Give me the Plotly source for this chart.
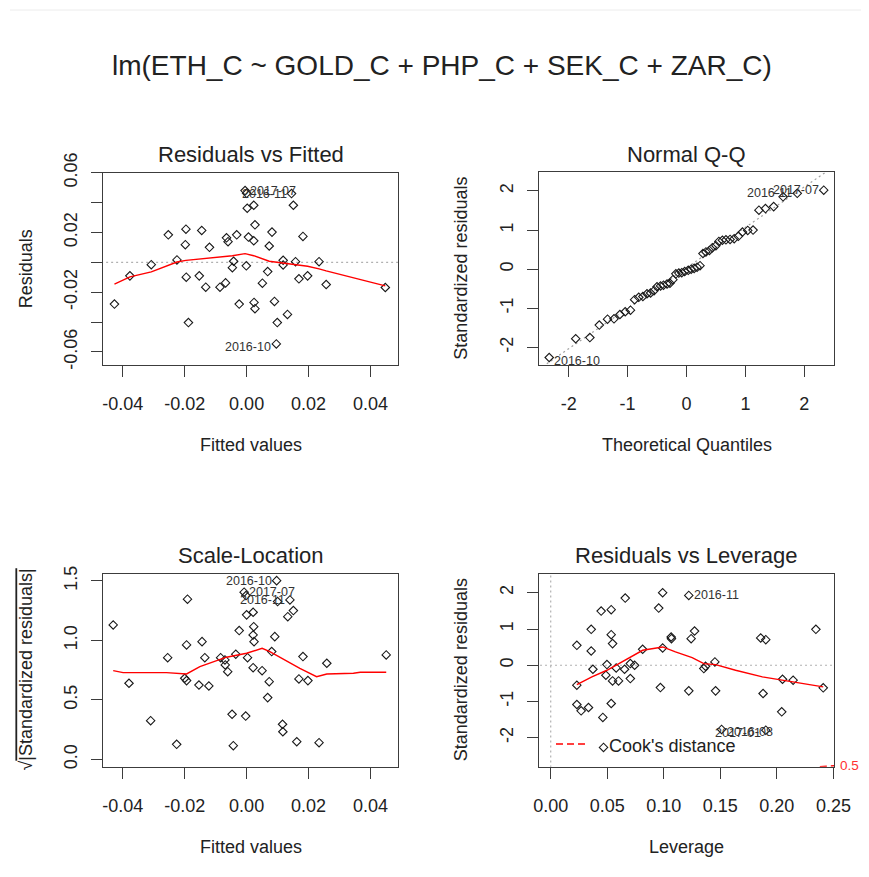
import plotly.graph_objects as go

PAGE_W, PAGE_H = 869, 877
OFF = 8  # default body margin of the html page
W, H = PAGE_W - OFF, PAGE_H - OFF

# ---------------- data ----------------
# Residuals vs Fitted
fitted = [-0.0427, -0.0377, -0.0308, -0.0253, -0.0225, -0.0196, -0.0198, -0.0195, -0.0188, -0.0153,
          -0.0145, -0.0132, -0.0120, -0.0086, -0.0068, -0.0065, -0.0060, -0.0046, -0.0042, -0.0032,
          -0.0024, -0.0005, 0.0000, -0.0001, 0.0002, 0.0006, 0.0023, 0.0023, 0.0027, 0.0024,
          0.0027, 0.0051, 0.0068, 0.0073, 0.0082, 0.0090, 0.0099, 0.0096, 0.0118, 0.0118,
          0.0132, 0.0151, 0.0158, 0.0169, 0.0182, 0.0197, 0.0234, 0.0257, 0.0448, 0.0145]
residuals = [-0.0280, -0.0091, -0.0016, 0.0184, 0.0016, 0.0222, 0.0118, -0.0100, -0.0404, -0.0091,
             0.0213, -0.0167, 0.0100, -0.0167, -0.0138, 0.0164, 0.0138, -0.0036, 0.0007, 0.0184,
             -0.0280, 0.0480, 0.0462, -0.0024, 0.0362, 0.0169, 0.0382, 0.0144, 0.0251, -0.0269,
             -0.0311, -0.0140, -0.0062, 0.0109, 0.0202, -0.0262, -0.0404, -0.0547, 0.0013, -0.0018,
             -0.0349, 0.0382, 0.0004, -0.0111, 0.0173, -0.0091, 0.0004, -0.0149, -0.0169, 0.0460]
rf_smooth_x = [-0.0427, -0.0377, -0.0308, -0.0225, -0.0196, -0.0120, -0.0046, -0.0005, 0.0023,
               0.0073, 0.0118, 0.0158, 0.0197, 0.0234, 0.0257, 0.0448]
rf_smooth_y = [-0.0147, -0.0098, -0.0064, 0.0002, 0.0013, 0.0027, 0.0044, 0.0058, 0.0044,
               0.0007, -0.0004, -0.0013, -0.0027, -0.0044, -0.0058, -0.0158]
rf_labels = ["2017-07", "2016-11", "2016-10"]
rf_label_x = [-0.0005, 0.0145, 0.0096]
rf_label_y = [0.0480, 0.0460, -0.0547]
rf_label_side = ["right", "left", "left"]

# Normal Q-Q
qq_theoretical = [-2.33, -1.88, -1.64, -1.48, -1.34, -1.23, -1.13, -1.04, -0.95, -0.88,
                  -0.81, -0.74, -0.67, -0.61, -0.55, -0.50, -0.44, -0.39, -0.33, -0.28,
                  -0.23, -0.18, -0.13, -0.08, -0.03, 0.03, 0.08, 0.13, 0.18, 0.23,
                  0.28, 0.33, 0.39, 0.44, 0.50, 0.55, 0.61, 0.67, 0.74, 0.81,
                  0.88, 0.95, 1.04, 1.13, 1.23, 1.34, 1.48, 1.64, 1.88, 2.33]
qq_sample = [-2.26, -1.78, -1.75, -1.43, -1.28, -1.27, -1.16, -1.09, -1.05, -0.78,
             -0.72, -0.70, -0.63, -0.61, -0.55, -0.45, -0.43, -0.41, -0.38, -0.36,
             -0.27, -0.12, -0.10, -0.09, -0.06, -0.03, 0.00, 0.02, 0.05, 0.09,
             0.40, 0.44, 0.48, 0.55, 0.60, 0.71, 0.74, 0.75, 0.76, 0.78,
             0.84, 0.95, 0.99, 1.00, 1.51, 1.55, 1.60, 1.85, 1.94, 2.02]
qq_line_intercept = 0.034
qq_line_slope = 1.035
qq_labels = ["2016-10", "2016-11", "2017-07"]
qq_label_x = [-2.33, 1.88, 2.33]
qq_label_y = [-2.26, 1.94, 2.02]
qq_label_side = ["right", "left", "left"]

# Scale-Location
sl_fitted = [-0.0431, -0.0380, -0.0310, -0.0226, -0.0255, -0.0191, -0.0194, -0.0200, -0.0194, -0.0154,
             -0.0144, -0.0135, -0.0122, -0.0084, -0.0070, -0.0069, -0.0061, -0.0047, -0.0043, -0.0035,
             -0.0024, -0.0003, -0.0008, -0.0002, 0.0000, 0.0003, 0.0021, 0.0023, 0.0021, 0.0024,
             0.0021, 0.0050, 0.0073, 0.0068, 0.0081, 0.0091, 0.0097, 0.0100, 0.0116, 0.0117,
             0.0133, 0.0140, 0.0151, 0.0162, 0.0169, 0.0182, 0.0198, 0.0234, 0.0259, 0.0451]
sl_sqrt_std_resid = [1.130, 0.640, 0.325, 0.126, 0.855, 1.347, 0.962, 0.682, 0.662, 0.625,
                     0.990, 0.855, 0.617, 0.855, 0.836, 0.794, 0.737, 0.379, 0.115, 0.884,
                     1.083, 0.364, 1.406, 1.377, 1.215, 0.855, 1.237, 1.116, 1.046, 0.990,
                     0.771, 0.746, 0.653, 0.519, 0.906, 1.032, 1.503, 1.327, 0.295, 0.232,
                     1.200, 1.341, 1.251, 0.148, 0.676, 0.864, 0.662, 0.140, 0.808, 0.878]
sl_smooth_x = [-0.0431, -0.0399, -0.0259, -0.0194, -0.0151, -0.0065, 0.0000, 0.0050, 0.0075,
               0.0118, 0.0172, 0.0226, 0.0259, 0.0345, 0.0367, 0.0451]
sl_smooth_y = [0.746, 0.729, 0.729, 0.718, 0.780, 0.859, 0.892, 0.934, 0.906,
               0.842, 0.766, 0.695, 0.718, 0.724, 0.732, 0.732]
sl_labels = ["2016-10", "2017-07", "2016-11"]
sl_label_x = [0.0097, -0.0008, 0.0140]
sl_label_y = [1.503, 1.406, 1.341]
sl_label_side = ["left", "right", "left"]

# Residuals vs Leverage
leverage = [0.0231, 0.0231, 0.0231, 0.0269, 0.0334, 0.0358, 0.0358, 0.0373, 0.0446, 0.0461,
            0.0467, 0.0488, 0.0497, 0.0535, 0.0535, 0.0547, 0.0535, 0.0547, 0.0579, 0.0600,
            0.0659, 0.0653, 0.0704, 0.0704, 0.0742, 0.0813, 0.0955, 0.0970, 0.0990, 0.0990,
            0.1065, 0.1068, 0.1221, 0.1221, 0.1242, 0.1272, 0.1354, 0.1369, 0.1452, 0.1458,
            0.1511, 0.1857, 0.1902, 0.1878, 0.1902, 0.2043, 0.2050, 0.2144, 0.2345, 0.2410]
std_resid = [0.551, -0.551, -1.083, -1.258, -1.166, 0.992, 0.394, -0.110, 1.496, -1.441,
             -2.268, -0.275, 0.019, 1.534, 0.845, 0.597, -1.056, -0.432, -0.073, -0.432,
             1.855, -0.110, -0.367, 0.046, 0.000, 0.441, 1.579, -0.615, 2.002, 0.477,
             0.780, 0.734, 1.928, -0.707, 0.734, 0.945, -0.092, -0.028, 0.092, -0.707,
             -1.772, 0.753, 0.707, -0.780, -1.791, -1.286, -0.386, -0.413, 0.992, -0.624]
rl_smooth_x = [0.0231, 0.0364, 0.0497, 0.0630, 0.0813, 0.0990, 0.1103, 0.1251, 0.1354,
               0.1458, 0.1635, 0.1872, 0.2050, 0.2227, 0.2410]
rl_smooth_y = [-0.532, -0.322, -0.138, 0.092, 0.413, 0.505, 0.367, 0.211, 0.046,
               0.018, -0.138, -0.322, -0.413, -0.505, -0.597]
cook_x = [0.2380, 0.2510]
cook_y = [-2.800, -2.772]
cook_level = "0.5"
rl_labels = ["2016-11", "2016-08", "2017-01"]
rl_label_x = [0.1221, 0.1511, 0.1902]
rl_label_y = [1.928, -1.772, -1.791]
rl_label_side = ["right", "right", "left"]

# ---------------- helpers (page pixel -> paper fraction) ----------------
def fx(p):
    return (p - OFF) / W


def fy(p):
    return 1 - (p - OFF) / H


FONT = "Liberation Sans, Arial, sans-serif"
TXT = "#222222"
BOX = "#3c3c3c"

fig = go.Figure()

# panel geometry in page pixels: (left, right, top, bottom)
panels = {
    1: (103.3, 398.3, 172.7, 365.0),
    2: (539.3, 834.3, 172.3, 365.0),
    3: (103.3, 398.3, 573.5, 766.7),
    4: (539.3, 834.3, 573.7, 766.7),
}


def axname(i, a):
    return a + ("" if i == 1 else str(i))


def add_points(i, xs, ys):
    fig.add_trace(go.Scatter(
        x=xs, y=ys, mode="markers", xaxis=axname(i, "x"), yaxis=axname(i, "y"),
        marker=dict(symbol="diamond-open", size=6.5, color="#1a1a1a", line=dict(width=1.1, color="#1a1a1a")),
        showlegend=False, hoverinfo="skip"))


def add_line(i, xs, ys, color="red", width=1.4, dash="solid"):
    fig.add_trace(go.Scatter(
        x=xs, y=ys, mode="lines", xaxis=axname(i, "x"), yaxis=axname(i, "y"),
        line=dict(color=color, width=width, dash=dash), showlegend=False, hoverinfo="skip"))


DOT = "2px,3px"

# Panel 1
add_line(1, [-1, 1], [0, 0], color="#b0b0b0", width=1.2, dash=DOT)
add_points(1, fitted, residuals)
add_line(1, rf_smooth_x, rf_smooth_y)

# Panel 2
qq_ends = [-3.0, 3.0]
add_line(2, qq_ends, [qq_line_intercept + qq_line_slope * v for v in qq_ends],
         color="#a0a0a0", width=1.2, dash=DOT)
add_points(2, qq_theoretical, qq_sample)

# Panel 3
add_points(3, sl_fitted, sl_sqrt_std_resid)
add_line(3, sl_smooth_x, sl_smooth_y)

# Panel 4
add_line(4, [-1, 1], [0, 0], color="#b0b0b0", width=1.2, dash=DOT)
add_line(4, [0, 0], [-10, 10], color="#b0b0b0", width=1.2, dash=DOT)
add_points(4, leverage, std_resid)
add_line(4, rl_smooth_x, rl_smooth_y)
add_line(4, cook_x, cook_y, color="red", width=1.4, dash="7px,4px")

# ---------------- axes ----------------
axis_common = dict(
    showline=True, mirror=True, linecolor=BOX, linewidth=1.4,
    ticks="outside", ticklen=11, tickwidth=1.2, tickcolor=BOX,
    showgrid=False, zeroline=False, tickmode="array", automargin=False,
    tickfont=dict(family=FONT, size=18, color=TXT),
)

ranges = {
    1: ([-0.0463, 0.0490], [-0.0688, 0.0600]),
    2: ([-2.498, 2.509], [-2.452, 2.478]),
    3: ([-0.0463, 0.0490], [-0.062, 1.563]),
    4: ([-0.0101, 0.2508], [-2.800, 2.527]),
}
xticks = {
    1: ([-0.04, -0.02, 0, 0.02, 0.04], ["-0.04", "-0.02", "0.00", "0.02", "0.04"]),
    2: ([-2, -1, 0, 1, 2], ["-2", "-1", "0", "1", "2"]),
    3: ([-0.04, -0.02, 0, 0.02, 0.04], ["-0.04", "-0.02", "0.00", "0.02", "0.04"]),
    4: ([0, 0.05, 0.10, 0.15, 0.20, 0.25], ["0.00", "0.05", "0.10", "0.15", "0.20", "0.25"]),
}
yticks = {
    1: ([-0.06, -0.04, -0.02, 0, 0.02, 0.04, 0.06], ["-0.06", "", "-0.02", "", "0.02", "", "0.06"]),
    2: ([-2, -1, 0, 1, 2], ["-2", "-1", "0", "1", "2"]),
    3: ([0, 0.5, 1.0, 1.5], ["0.0", "0.5", "1.0", "1.5"]),
    4: ([-2, -1, 0, 1, 2], ["-2", "-1", "0", "1", "2"]),
}

layout_axes = {}
for i, (l, r, t, b) in panels.items():
    xk = "xaxis" + ("" if i == 1 else str(i))
    yk = "yaxis" + ("" if i == 1 else str(i))
    layout_axes[xk] = dict(axis_common, domain=[fx(l), fx(r)], range=ranges[i][0],
                           anchor=axname(i, "y"), tickvals=xticks[i][0], ticktext=xticks[i][1],
                           ticklabelstandoff=11)
    layout_axes[yk] = dict(axis_common, domain=[fy(b), fy(t)], range=ranges[i][1],
                           anchor=axname(i, "x"), tickvals=yticks[i][0], ticktext=yticks[i][1],
                           tickangle=-90, ticklabelstandoff=7)

# ---------------- annotations ----------------
ann = []


def paper_text(text, x, y, size, angle=0, color=TXT, xanchor="center"):
    ann.append(dict(text=text, x=fx(x), y=fy(y), xref="paper", yref="paper",
                    xanchor=xanchor, yanchor="middle", showarrow=False, textangle=angle,
                    font=dict(family=FONT, size=size, color=color)))


paper_text("lm(ETH_C ~ GOLD_C + PHP_C + SEK_C + ZAR_C)", 442, 65, 28)

titles = {1: "Residuals vs Fitted", 2: "Normal Q-Q", 3: "Scale-Location", 4: "Residuals vs Leverage"}
xtitles = {1: "Fitted values", 2: "Theoretical Quantiles", 3: "Fitted values", 4: "Leverage"}
ytitles = {1: "Residuals", 2: "Standardized residuals",
           3: "√<span style=\"text-decoration:overline\">|Standardized residuals|</span>",
           4: "Standardized residuals"}
ytitle_x = {1: 25.5, 2: 461, 3: 26.5, 4: 461}
for i, (l, r, t, b) in panels.items():
    cx = (l + r) / 2
    cy = (t + b) / 2
    paper_text(titles[i], cx, t - 18, 22)
    paper_text(xtitles[i], cx, b + 80, 18)
    paper_text(ytitles[i], ytitle_x[i], cy, 18, angle=-90)


def point_labels(i, labels, xs, ys, sides):
    for lab, x, y, s in zip(labels, xs, ys, sides):
        ann.append(dict(text=lab, x=x, y=y, xref=axname(i, "x"), yref=axname(i, "y"),
                        xanchor=s, yanchor="middle", showarrow=False,
                        xshift=3 if s == "left" else -3, yshift=-3 if y < 0 else 0,
                        font=dict(family=FONT, size=12.5, color="#333333")))


point_labels(1, rf_labels, rf_label_x, rf_label_y,
             ["left" if s == "right" else "right" for s in rf_label_side])
point_labels(2, qq_labels, qq_label_x, qq_label_y,
             ["left" if s == "right" else "right" for s in qq_label_side])
point_labels(3, sl_labels, sl_label_x, sl_label_y,
             ["left" if s == "right" else "right" for s in sl_label_side])
point_labels(4, rl_labels, rl_label_x, rl_label_y,
             ["left" if s == "right" else "right" for s in rl_label_side])

# Cook's distance legend and contour label
paper_text("Cook's distance", 606.5, 745.5, 18, xanchor="left")
paper_text(cook_level, 838, 765.5, 13.5, color="#ff3030", xanchor="left")

shapes = [
    dict(type="line", xref="paper", yref="paper", x0=fx(556), x1=fx(586), y0=fy(744), y1=fy(744),
         line=dict(color="red", width=1.4, dash="7px,4px")),
    dict(type="line", xref="paper", yref="paper", x0=fx(10), x1=1, y0=fy(10), y1=fy(10),
         line=dict(color="#ececec", width=1)),
]

fig.update_layout(
    template="none",
    width=W, height=H, autosize=False,
    margin=dict(l=0, r=0, t=0, b=0, pad=0, autoexpand=False),
    paper_bgcolor="white", plot_bgcolor="white",
    showlegend=False,
    annotations=ann, shapes=shapes,
    **layout_axes,
)

fig.write_html("out.html", config={"displayModeBar": False})
